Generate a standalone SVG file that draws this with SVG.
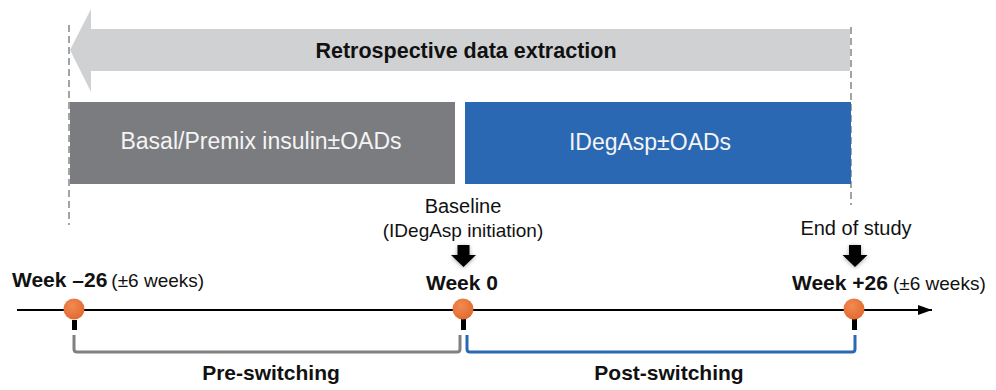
<svg xmlns="http://www.w3.org/2000/svg" width="996" height="390" viewBox="0 0 996 390">
<style>
.b{font-family:"Liberation Sans",Arial,sans-serif;font-weight:bold;fill:#111;}
.n{font-family:"Liberation Sans",Arial,sans-serif;fill:#111;}
.w{font-family:"Liberation Sans",Arial,sans-serif;fill:#f4f4f4;font-size:23px;}
.dash{stroke:#a3a3a3;stroke-width:2;stroke-dasharray:7 4;fill:none;}
.dot{fill:url(#og);}
.tick{fill:#000;}
.down{fill:#000;filter:url(#sh);}
</style>
<defs>
<radialGradient id="og" cx="0.4" cy="0.35" r="0.7">
<stop offset="0" stop-color="#f28a52"/>
<stop offset="1" stop-color="#e0692e"/>
</radialGradient>
<filter id="sh" x="-50%" y="-50%" width="200%" height="200%">
<feGaussianBlur in="SourceAlpha" stdDeviation="2"/>
<feOffset dx="0" dy="1" result="b"/>
<feComponentTransfer><feFuncA type="linear" slope="0.35"/></feComponentTransfer>
<feMerge><feMergeNode/><feMergeNode in="SourceGraphic"/></feMerge>
</filter>
<marker id="ah" markerWidth="14" markerHeight="10" refX="14" refY="5" orient="auto" markerUnits="userSpaceOnUse">
<polygon points="0,0 14,5 0,10" fill="#000"/>
</marker>
</defs>

<g id="retro-arrow">
<polygon points="70,50 91,9 91,29 850,29 850,71 91,71 91,92" fill="#d0d1d3"/>
<text class="b" x="466" y="58" font-size="21.5" text-anchor="middle">Retrospective data extraction</text>
</g>

<g id="guides">
<line class="dash" x1="69" y1="25" x2="69" y2="225"/>
<line class="dash" x1="851" y1="27" x2="851" y2="205"/>
</g>

<g id="basal-box">
<rect x="70" y="102" width="385" height="82" fill="#7b7c80"/>
<text class="w" x="261" y="149" text-anchor="middle">Basal/Premix insulin±OADs</text>
</g>

<g id="idegasp-box">
<rect x="465" y="102" width="386" height="82" fill="#2a68b3"/>
<text class="w" x="650" y="150" text-anchor="middle">IDegAsp±OADs</text>
</g>

<g id="connectors">
<line x1="17" y1="310" x2="932" y2="310" stroke="#000" stroke-width="2" marker-end="url(#ah)"/>
<path d="M74,335 V349 Q74,352 77,352 H457 Q460,352 460,349 V335" fill="none" stroke="#808080" stroke-width="3"/>
<path d="M467,335 V349 Q467,352 470,352 H852 Q855,352 855,349 V335" fill="none" stroke="#2a68b3" stroke-width="3"/>
<polygon class="down" points="457.5,245 469.5,245 469.5,255 476,255 463.5,267 451,255 457.5,255"/>
<polygon class="down" points="849,245 861,245 861,255 867.5,255 855,267 842.5,255 849,255"/>
</g>

<g id="week-minus26">
<text x="12" y="287"><tspan class="b" font-size="21">Week –26</tspan><tspan class="n" font-size="19" dx="4">(±6 weeks)</tspan></text>
<rect class="tick" x="72" y="320" width="5" height="10"/>
<circle class="dot" cx="74" cy="309" r="10.5"/>
</g>

<g id="week-0">
<text class="n" x="463" y="213" font-size="20" text-anchor="middle">Baseline</text>
<text class="n" x="463" y="237" font-size="19" text-anchor="middle">(IDegAsp initiation)</text>
<text class="b" x="462" y="290" font-size="21" text-anchor="middle">Week 0</text>
<rect class="tick" x="461" y="319" width="5" height="11"/>
<circle class="dot" cx="463" cy="309" r="10.5"/>
</g>

<g id="week-plus26">
<text class="n" x="856" y="235" font-size="20" text-anchor="middle">End of study</text>
<text x="792" y="290"><tspan class="b" font-size="21">Week +26</tspan><tspan class="n" font-size="19" dx="5">(±6 weeks)</tspan></text>
<rect class="tick" x="852" y="319" width="5" height="11"/>
<circle class="dot" cx="854" cy="309" r="10.5"/>
</g>

<g id="labels">
<text class="b" x="271" y="380" font-size="21" text-anchor="middle">Pre-switching</text>
<text class="b" x="669" y="380" font-size="21" text-anchor="middle">Post-switching</text>
</g>
</svg>
